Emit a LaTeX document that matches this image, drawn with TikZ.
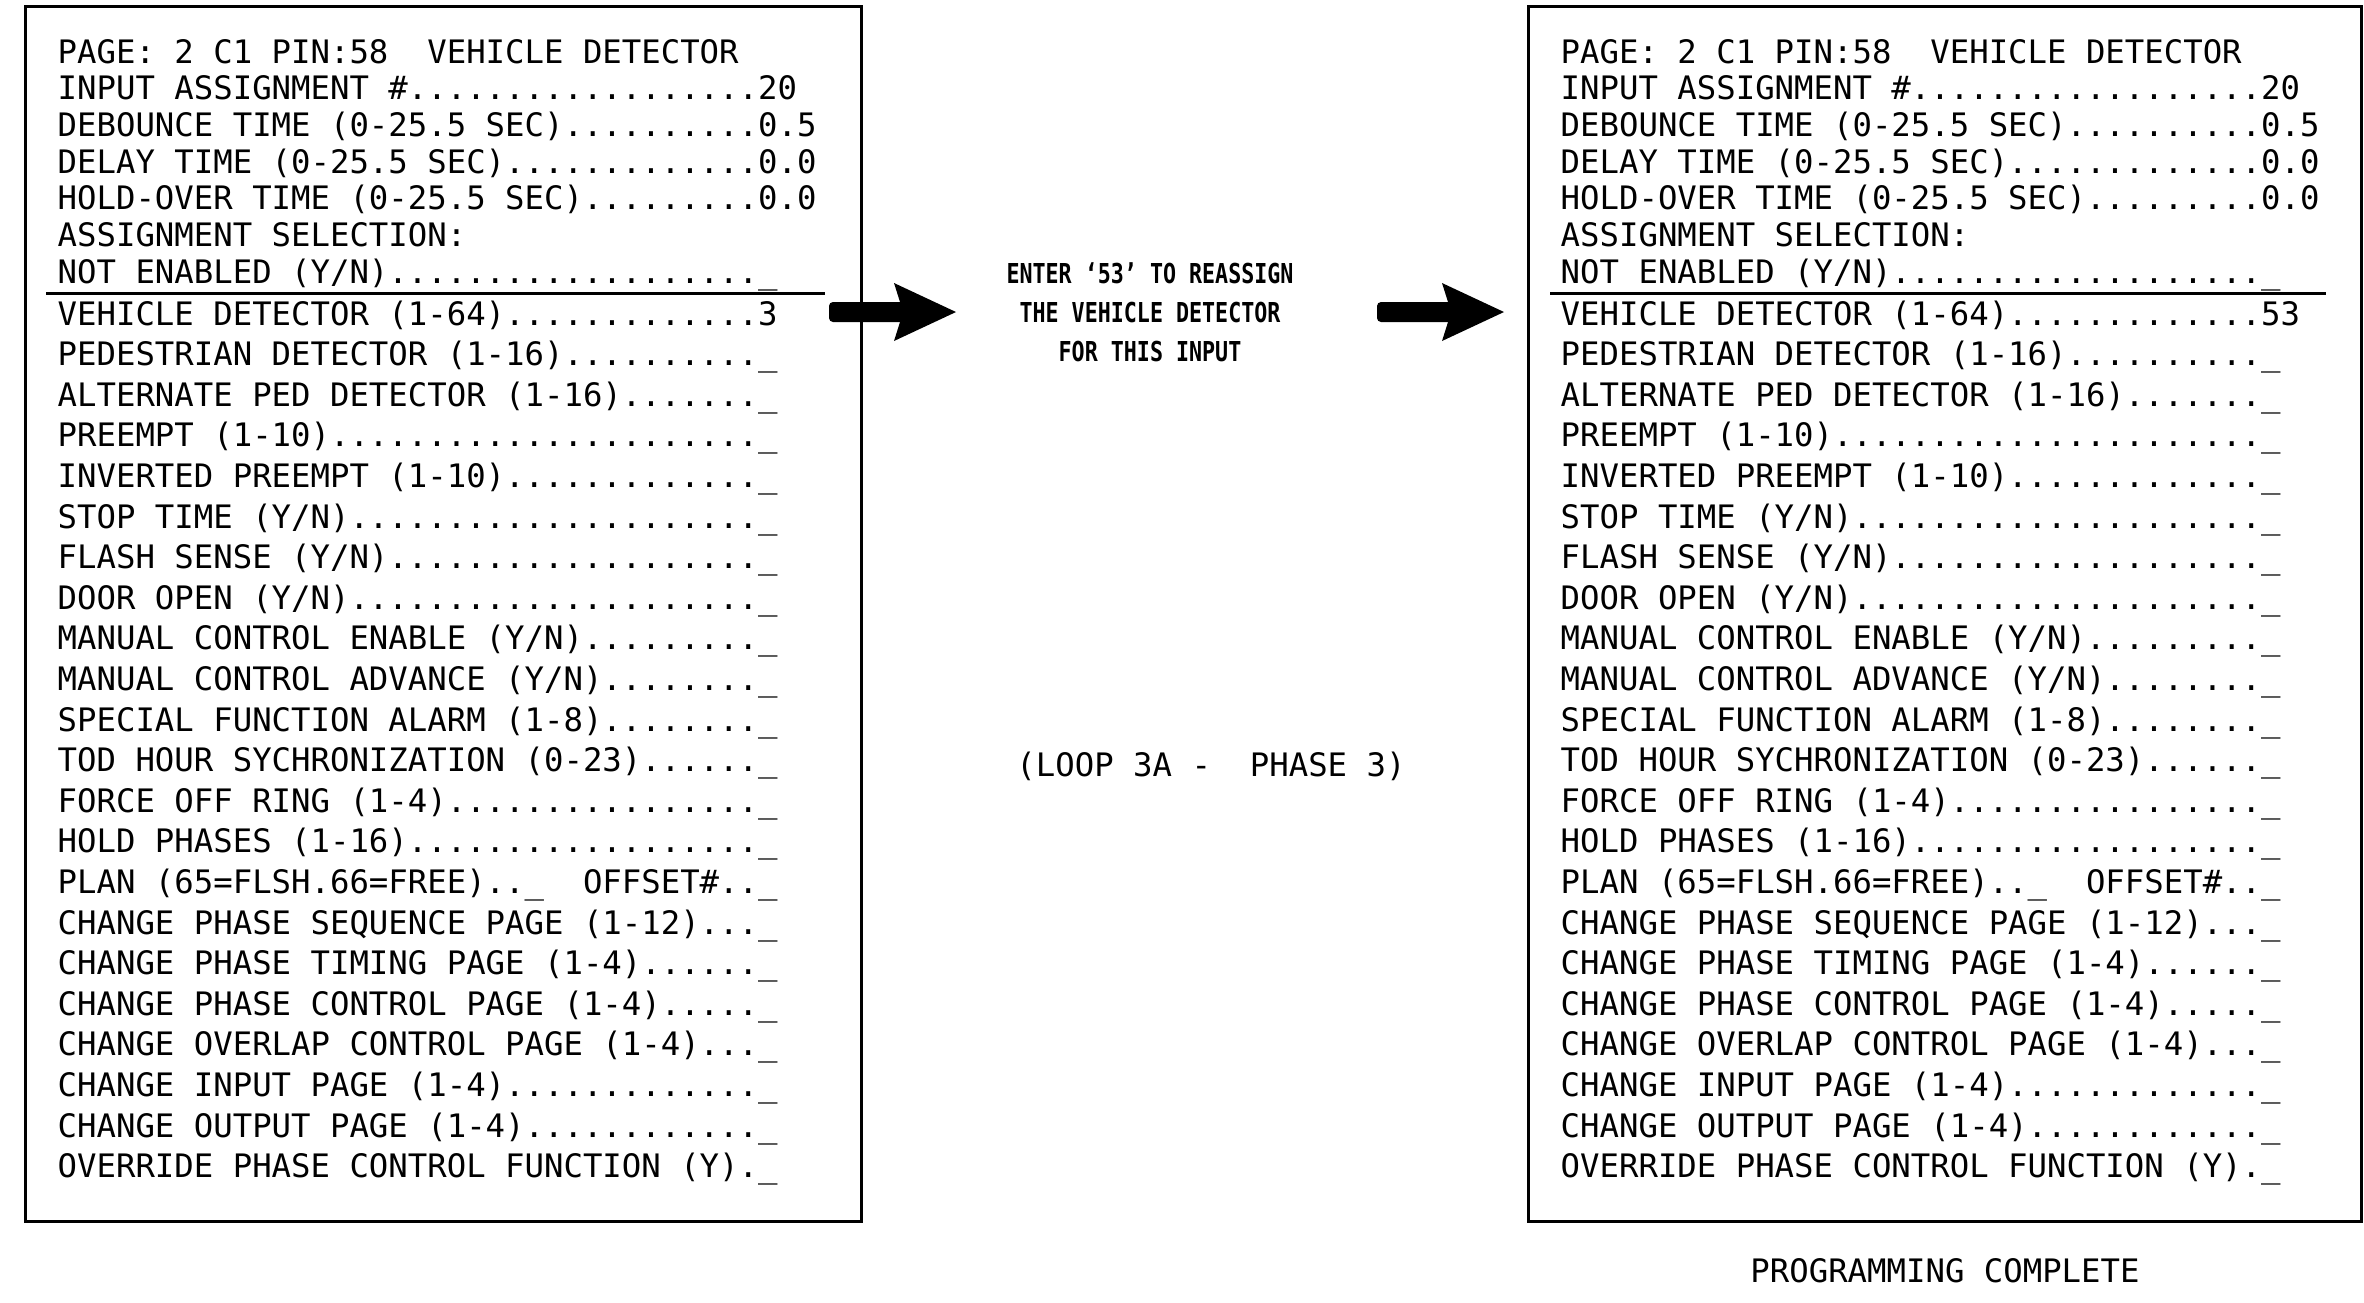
\documentclass[tikz,border=0pt]{standalone}
\usepackage{fontspec}
\usetikzlibrary{positioning}
\newfontfamily\screenfont{DejaVu Sans Mono}
\newfontfamily\notefont[FakeStretch=0.79]{DejaVu Sans Mono}
\tikzset{
  screenbox/.style = {draw=black, line width=0.85pt, inner sep=0pt},
  seprule/.style = {draw=black, line width=0.85pt},
  scrline/.style = {anchor=base west, inner sep=0pt,
    font=\screenfont\fontsize{9.19}{11}\selectfont},
  notetext/.style = {anchor=base, inner sep=0pt,
    font=\notefont\bfseries\fontsize{7.8}{9.4}\selectfont},
  bigarrow/.style = {fill=black}}

\begin{document}
\begin{tikzpicture}[x=0.01cm, y=-0.01cm]
\useasboundingbox (0,0) rectangle (2364,1302);

% the two controller screens
\node[screenbox, minimum width=8.35cm, minimum height=12.14cm] (before) at (443.5,614) {};
\node[screenbox, minimum width=8.32cm, minimum height=12.14cm] (after) at (1945,614) {};

\draw[seprule] (46,293) -- (825,293);
\draw[seprule] (1550,293) -- (2326,293);

% screen texts, before and after the change
\foreach \side/\tx/\vd in {pre/57/3, post/1560/53}{
  \node[scrline] (\side-head1) at (\tx,63) {PAGE: 2 C1 PIN:58\ \ VEHICLE DETECTOR};
  \node[scrline] (\side-head2) at (\tx,99.7) {INPUT ASSIGNMENT \#..................20};
  \node[scrline] (\side-head3) at (\tx,136.4) {DEBOUNCE TIME (0-25.5 SEC)..........0.5};
  \node[scrline] (\side-head4) at (\tx,173.1) {DELAY TIME (0-25.5 SEC).............0.0};
  \node[scrline] (\side-head5) at (\tx,209.8) {HOLD-OVER TIME (0-25.5 SEC).........0.0};
  \node[scrline] (\side-head6) at (\tx,246.5) {ASSIGNMENT SELECTION:};
  \node[scrline] (\side-head7) at (\tx,283.2) {NOT ENABLED (Y/N)...................\_};
  \node[scrline] (\side-item1) at (\tx,325) {VEHICLE DETECTOR (1-64).............\vd};
  \node[scrline] (\side-item2) at (\tx,365.6) {PEDESTRIAN DETECTOR (1-16)..........\_};
  \node[scrline] (\side-item3) at (\tx,406.2) {ALTERNATE PED DETECTOR (1-16).......\_};
  \node[scrline] (\side-item4) at (\tx,446.8) {PREEMPT (1-10)......................\_};
  \node[scrline] (\side-item5) at (\tx,487.4) {INVERTED PREEMPT (1-10).............\_};
  \node[scrline] (\side-item6) at (\tx,528) {STOP TIME (Y/N).....................\_};
  \node[scrline] (\side-item7) at (\tx,568.6) {FLASH SENSE (Y/N)...................\_};
  \node[scrline] (\side-item8) at (\tx,609.2) {DOOR OPEN (Y/N).....................\_};
  \node[scrline] (\side-item9) at (\tx,649.8) {MANUAL CONTROL ENABLE (Y/N).........\_};
  \node[scrline] (\side-item10) at (\tx,690.4) {MANUAL CONTROL ADVANCE (Y/N)........\_};
  \node[scrline] (\side-item11) at (\tx,731) {SPECIAL FUNCTION ALARM (1-8)........\_};
  \node[scrline] (\side-item12) at (\tx,771.6) {TOD HOUR SYCHRONIZATION (0-23)......\_};
  \node[scrline] (\side-item13) at (\tx,812.2) {FORCE OFF RING (1-4)................\_};
  \node[scrline] (\side-item14) at (\tx,852.8) {HOLD PHASES (1-16)..................\_};
  \node[scrline] (\side-item15) at (\tx,893.4) {PLAN (65=FLSH.66=FREE)..\_\ \ OFFSET\#..\_};
  \node[scrline] (\side-item16) at (\tx,934) {CHANGE PHASE SEQUENCE PAGE (1-12)...\_};
  \node[scrline] (\side-item17) at (\tx,974.6) {CHANGE PHASE TIMING PAGE (1-4)......\_};
  \node[scrline] (\side-item18) at (\tx,1015.2) {CHANGE PHASE CONTROL PAGE (1-4).....\_};
  \node[scrline] (\side-item19) at (\tx,1055.8) {CHANGE OVERLAP CONTROL PAGE (1-4)...\_};
  \node[scrline] (\side-item20) at (\tx,1096.4) {CHANGE INPUT PAGE (1-4).............\_};
  \node[scrline] (\side-item21) at (\tx,1137) {CHANGE OUTPUT PAGE (1-4)............\_};
  \node[scrline] (\side-item22) at (\tx,1177.6) {OVERRIDE PHASE CONTROL FUNCTION (Y).\_};
}

% block arrows
\foreach \ax in {829,1377}{
  \fill[bigarrow, rounded corners=0.04cm] (\ax,302) rectangle (\ax+76,322);
  \fill[bigarrow] (\ax+71,302) -- (\ax+65,283) -- (\ax+127,312)
    -- (\ax+65,341) -- (\ax+71,322) -- cycle;
}

% notes
\node[notetext] (enter) at (1150,283) {ENTER ‘53’ TO REASSIGN};
\node[notetext, below=0.17cm of enter] (thedet) {THE VEHICLE DETECTOR};
\node[notetext, below=0.17cm of thedet] (forinput) {FOR THIS INPUT};
\node[scrline, anchor=base] (loopnote) at (1211,776) {(LOOP 3A -\ \ PHASE 3)};
\node[scrline, below=0.35cm of after] (done) {PROGRAMMING COMPLETE};
\end{tikzpicture}
\end{document}
